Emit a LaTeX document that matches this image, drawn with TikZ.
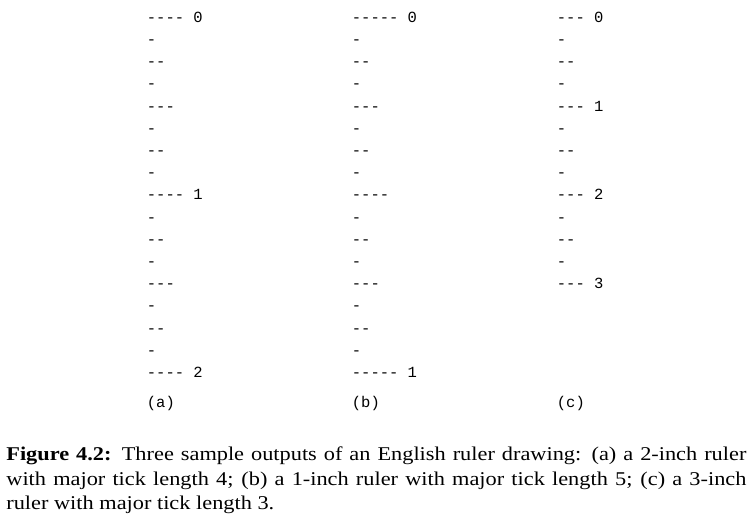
\documentclass[tikz,border=0pt]{standalone}
\usepackage{fontspec}
\setmainfont{Liberation Serif}[FakeStretch=1.145]
\setmonofont{Liberation Mono}
\begin{document}
\begin{tikzpicture}[x=0.5pt,y=-0.5pt,
  rulerline/.style={anchor=base west,inner sep=0pt,font=\ttfamily\fontsize{7.75}{9}\selectfont}]
\useasboundingbox (0,0) rectangle (754,522);
\foreach \t [count=\r from 0] in {---- 0,-,--,-,---,-,--,-,---- 1,-,--,-,---,-,--,-,---- 2}
  \node[rulerline] (a\r) at (146.5,22.3+22.2*\r) {\t};
\foreach \t [count=\r from 0] in {----- 0,-,--,-,---,-,--,-,----,-,--,-,---,-,--,-,----- 1}
  \node[rulerline] (b\r) at (351.5,22.3+22.2*\r) {\t};
\foreach \t [count=\r from 0] in {--- 0,-,--,-,--- 1,-,--,-,--- 2,-,--,-,--- 3}
  \node[rulerline] (c\r) at (556.5,22.3+22.2*\r) {\t};
\node[rulerline] (la) at (146.5,407.5) {(a)};
\node[rulerline] (lb) at (351.5,407.5) {(b)};
\node[rulerline] (lc) at (556.5,407.5) {(c)};
\node[anchor=base west,inner sep=0pt,text width=370pt,align=justify,
  font=\fontsize{9.75}{12.25}\selectfont] (cap) at (6,461)
  {\textbf{Figure 4.2:} Three sample outputs of an English ruler drawing: (a) a 2-inch ruler\linebreak{} with major tick length 4; (b) a 1-inch ruler with major tick length 5; (c) a 3-inch\linebreak{} ruler with major tick length 3.};
\end{tikzpicture}
\end{document}
